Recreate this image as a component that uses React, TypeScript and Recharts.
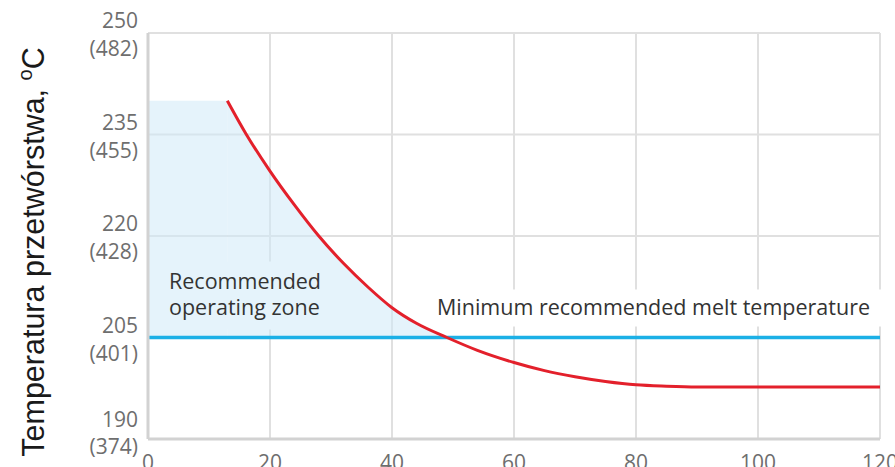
import React from 'react';
import {
  ComposedChart,
  Line,
  Area,
  XAxis,
  YAxis,
  CartesianGrid,
  ReferenceLine,
  ReferenceArea,
  Label
} from 'recharts';

// residence time (x) and recommended melt temperature (°C)
const TIME = [13, 16, 20, 24, 28, 32, 36, 40, 44, 49, 54, 60, 65, 70, 75, 80, 85, 90, 100, 110, 120];
const TEMP = [240, 235.2, 229.6, 224.6, 220.0, 216.0, 212.5, 209.4, 207.1, 205.0, 203.1, 201.3, 200.1, 199.2, 198.5, 198.0, 197.8, 197.7, 197.7, 197.7, 197.7];

const X_TICKS = [0, 20, 40, 60, 80, 100, 120];
const Y_TICKS_C = [190, 205, 220, 235, 250];
const Y_TICKS_F = ['(374)', '(401)', '(428)', '(455)', '(482)'];

const MIN_MELT = 205;
const ZONE_TOP = 240;
const ZONE_START = 13;

const ZONE_LABEL = ['Recommended', 'operating zone'];
const MIN_LABEL = 'Minimum recommended melt temperature';
const Y_TITLE = 'Temperatura przetwórstwa, ';

const data = TIME.map((t, i) => ({
  time: t,
  temp: TEMP[i],
  zone: TEMP[i] >= MIN_MELT ? TEMP[i] : undefined
}));

const TICK_FONT = '"Open Sans", sans-serif';
const TICK_COLOR = '#6e6e6e';
const ZONE_FILL = '#cfeaf7';
const ZONE_OPACITY = 0.55;

const YTick = (props: any) => {
  const { y, payload } = props;
  const idx = Y_TICKS_C.indexOf(payload.value);
  const bottom = idx === 0;
  return (
    <g fontFamily={TICK_FONT} fontSize={21} fill={TICK_COLOR} textAnchor="end">
      <text x={138} y={y + (bottom ? -20 : -13)} dominantBaseline="central">
        {payload.value}
      </text>
      <text x={138} y={y + (bottom ? 7 : 15)} dominantBaseline="central">
        {Y_TICKS_F[idx]}
      </text>
    </g>
  );
};

const XTick = (props: any) => {
  const { x, y, payload } = props;
  return (
    <text
      x={x}
      y={y + 23}
      textAnchor="middle"
      fontFamily={TICK_FONT}
      fontSize={21}
      fill={TICK_COLOR}
    >
      {payload.value}
    </text>
  );
};

const ZoneLabel = (props: any) => {
  const { viewBox } = props;
  const left = viewBox.x;
  const base = viewBox.y + viewBox.height;
  return (
    <g>
      <rect x={left + 17} y={base - 76} width={172} height={68} fill="#e5f3fb" />
      <g fontFamily={TICK_FONT} fontSize={21.5} fill="#333" dominantBaseline="central">
        <text x={left + 21} y={base - 57}>{ZONE_LABEL[0]}</text>
        <text x={left + 21} y={base - 31}>{ZONE_LABEL[1]}</text>
      </g>
    </g>
  );
};

const MinLabel = (props: any) => {
  const { viewBox } = props;
  const right = viewBox.x + viewBox.width;
  return (
    <g>
      <rect x={right - 457} y={viewBox.y - 48} width={463} height={37} fill="#fff" />
      <text
        x={right - 10}
        y={viewBox.y - 31}
        textAnchor="end"
        dominantBaseline="central"
        fontFamily={TICK_FONT}
        fontSize={21.5}
        fill="#333"
      >
        {MIN_LABEL}
      </text>
    </g>
  );
};

const YTitle = () => (
  <text
    transform="translate(44, 252) rotate(-90)"
    textAnchor="middle"
    fontFamily='"Liberation Sans", Arial, sans-serif'
    fontSize={30.5}
    fill="#1a1a1a"
  >
    {Y_TITLE}
    <tspan fontSize={20} dy={-12}>o</tspan>
    <tspan dy={12}>C</tspan>
  </text>
);

export default function App() {
  return (
    <div style={{ position: 'absolute', left: 0, top: 0 }}>
      <ComposedChart
        width={895}
        height={467}
        data={data}
        margin={{ top: 33, right: 15, bottom: 0, left: 0 }}
      >
        <CartesianGrid stroke="#e0e0e0" strokeWidth={2} />
        <XAxis
          dataKey="time"
          type="number"
          domain={[0, 120]}
          ticks={X_TICKS}
          height={28}
          tickLine={false}
          axisLine={{ stroke: '#d2d2d2', strokeWidth: 3 }}
          tick={<XTick />}
        />
        <YAxis
          type="number"
          domain={[190, 250]}
          ticks={Y_TICKS_C}
          width={148}
          tickLine={false}
          axisLine={{ stroke: '#d2d2d2', strokeWidth: 3 }}
          tick={<YTick />}
        >
          <Label content={<YTitle />} />
        </YAxis>
        <Area
          dataKey="zone"
          type="monotone"
          baseValue={MIN_MELT}
          fill={ZONE_FILL}
          fillOpacity={ZONE_OPACITY}
          stroke="none"
          isAnimationActive={false}
        />
        <ReferenceArea
          x1={0}
          x2={ZONE_START}
          y1={MIN_MELT}
          y2={ZONE_TOP}
          fill={ZONE_FILL}
          fillOpacity={ZONE_OPACITY}
          stroke="none"
          label={<ZoneLabel />}
        />
        <ReferenceLine
          y={MIN_MELT}
          stroke="#1cb0e6"
          strokeWidth={3.5}
          label={<MinLabel />}
        />
        <Line
          dataKey="temp"
          type="monotone"
          stroke="#e3202b"
          strokeWidth={3}
          dot={false}
          isAnimationActive={false}
        />
      </ComposedChart>
    </div>
  );
}
